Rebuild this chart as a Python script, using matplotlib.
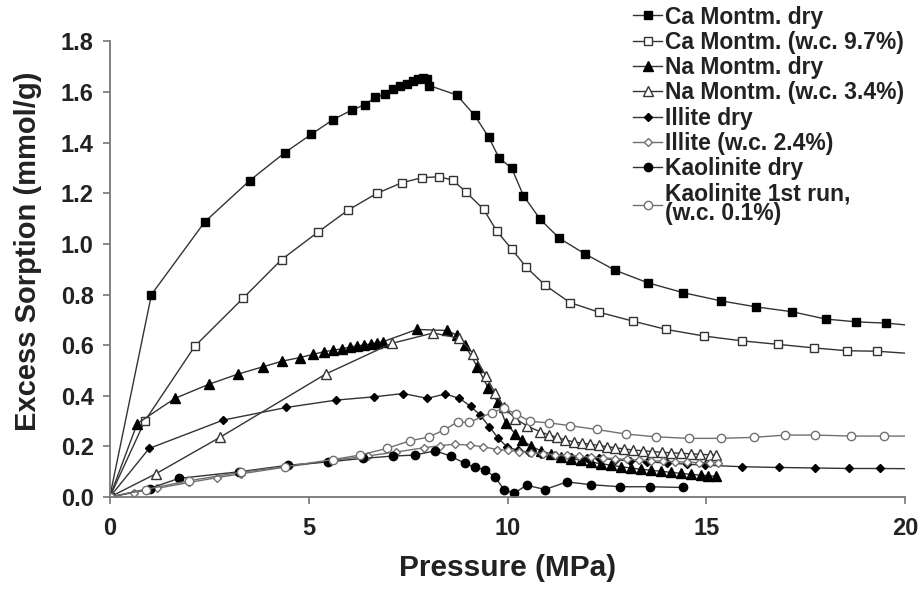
import matplotlib
matplotlib.use('Agg')
import matplotlib.pyplot as plt

plt.rcParams['font.family'] = ['Liberation Sans', 'DejaVu Sans']
plt.rcParams['font.weight'] = 'bold'

# Ca Montmorillonite dry
ca_dry_p = [0, 1.05, 2.39, 3.52, 4.40, 5.07, 5.61, 6.08, 6.42, 6.67, 6.92, 7.12, 7.30, 7.46, 7.63,
            7.75, 7.88, 7.97, 8.03, 8.72, 9.17, 9.53, 9.79, 10.1, 10.4, 10.82, 11.3, 11.95, 12.7,
            13.53, 14.42, 15.36, 16.25, 17.15, 18.0, 18.77, 19.5, 20.3]
ca_dry_s = [0, 0.80, 1.087, 1.25, 1.36, 1.433, 1.49, 1.528, 1.55, 1.578, 1.59, 1.613, 1.622, 1.633,
            1.642, 1.65, 1.653, 1.649, 1.625, 1.588, 1.508, 1.42, 1.338, 1.30, 1.19, 1.097, 1.022,
            0.96, 0.896, 0.846, 0.807, 0.775, 0.751, 0.732, 0.703, 0.692, 0.687, 0.676]

# Ca Montmorillonite w.c. 9.7%
ca_wet_p = [0, 0.88, 2.14, 3.35, 4.32, 5.24, 5.99, 6.71, 7.34, 7.84, 8.28, 8.63, 8.95, 9.40, 9.73,
            10.1, 10.47, 10.94, 11.57, 12.3, 13.15, 13.99, 14.94, 15.89, 16.81, 17.71, 18.52, 19.29, 20.3]
ca_wet_s = [0, 0.30, 0.596, 0.785, 0.938, 1.047, 1.133, 1.199, 1.241, 1.261, 1.265, 1.251, 1.205,
            1.136, 1.05, 0.98, 0.908, 0.837, 0.768, 0.73, 0.695, 0.662, 0.636, 0.617, 0.603, 0.589,
            0.578, 0.576, 0.565]

# Na Montmorillonite dry
na_dry_p = [0, 0.69, 1.64, 2.5, 3.23, 3.86, 4.34, 4.78, 5.12, 5.38, 5.62, 5.84, 6.04, 6.22, 6.40,
            6.56, 6.72, 6.86, 7.72, 8.47, 8.72, 8.93, 9.24, 9.52, 9.75, 9.96, 10.19, 10.36, 10.6,
            10.85, 11.1, 11.35, 11.6, 11.85, 12.1, 12.35, 12.6, 12.85, 13.1, 13.35, 13.6, 13.85,
            14.1, 14.35, 14.6, 14.85, 15.05, 15.25]
na_dry_s = [0, 0.29, 0.39, 0.446, 0.486, 0.515, 0.537, 0.551, 0.564, 0.574, 0.58, 0.586, 0.592,
            0.597, 0.601, 0.605, 0.609, 0.613, 0.662, 0.658, 0.64, 0.60, 0.514, 0.429, 0.376, 0.291,
            0.251, 0.225, 0.20, 0.182, 0.17, 0.16, 0.152, 0.145, 0.138, 0.132, 0.126, 0.12, 0.115,
            0.11, 0.106, 0.102, 0.098, 0.094, 0.09, 0.087, 0.084, 0.082]

# Na Montmorillonite w.c. 3.4%
na_wet_p = [0, 1.17, 2.77, 5.43, 7.09, 8.13, 8.77, 9.14, 9.45, 9.69, 9.9, 10.19, 10.5, 10.82, 11.03,
            11.24, 11.45, 11.66, 11.87, 12.08, 12.29, 12.5, 12.71, 12.93, 13.16, 13.4, 13.64, 13.88,
            14.12, 14.36, 14.6, 14.84, 15.08, 15.25]
na_wet_s = [0, 0.093, 0.236, 0.486, 0.607, 0.648, 0.628, 0.567, 0.48, 0.41, 0.357, 0.31, 0.28, 0.258,
            0.246, 0.236, 0.226, 0.218, 0.213, 0.209, 0.204, 0.199, 0.195, 0.19, 0.186, 0.183, 0.18,
            0.177, 0.175, 0.173, 0.171, 0.169, 0.167, 0.165]

# Illite dry
il_dry_p = [0, 0.99, 2.85, 4.44, 5.69, 6.64, 7.38, 7.98, 8.43, 8.79, 9.07, 9.31, 9.54, 9.77, 9.98,
            10.25, 10.55, 10.85, 11.2, 11.6, 12.0, 12.3, 12.7, 13.08, 13.5, 14.0, 14.5, 14.97, 15.9,
            16.83, 17.74, 18.57, 19.35, 20.3]
il_dry_s = [0, 0.192, 0.304, 0.354, 0.383, 0.396, 0.409, 0.39, 0.407, 0.39, 0.359, 0.324, 0.278,
            0.232, 0.199, 0.185, 0.177, 0.17, 0.165, 0.16, 0.156, 0.153, 0.148, 0.143, 0.139, 0.135,
            0.13, 0.126, 0.12, 0.117, 0.115, 0.113, 0.113, 0.112]

# Illite w.c. 2.4%
il_wet_p = [0, 0.6, 1.2, 2.0, 2.7, 3.3, 4.4, 5.6, 6.5, 7.2, 7.9, 8.3, 8.68, 9.06, 9.39, 9.73, 10.0,
            10.3, 10.6, 10.9, 11.2, 11.5, 11.8, 12.1, 12.4, 12.7, 13.0, 13.3, 13.6, 13.9, 14.2, 14.5,
            14.8, 15.1, 15.3]
il_wet_s = [0, 0.018, 0.035, 0.058, 0.077, 0.092, 0.118, 0.145, 0.163, 0.178, 0.195, 0.203, 0.209,
            0.205, 0.199, 0.188, 0.185, 0.18, 0.176, 0.172, 0.168, 0.165, 0.161, 0.158, 0.155, 0.152,
            0.149, 0.146, 0.144, 0.142, 0.14, 0.138, 0.136, 0.135, 0.134]

# Kaolinite dry
ka_dry_p = [0, 1.0, 1.74, 3.25, 4.49, 5.49, 6.37, 7.11, 7.67, 8.18, 8.57, 8.93, 9.18, 9.43, 9.69,
            9.91, 10.16, 10.48, 10.94, 11.49, 12.1, 12.82, 13.58, 14.42]
ka_dry_s = [0, 0.034, 0.074, 0.1, 0.126, 0.139, 0.153, 0.162, 0.166, 0.183, 0.162, 0.133, 0.117,
            0.109, 0.078, 0.03, 0.015, 0.047, 0.03, 0.06, 0.049, 0.041, 0.041, 0.038]

# Kaolinite 1st run (w.c. 0.1%)
ka_run_p = [0, 0.9, 2.0, 3.3, 4.4, 5.6, 6.29, 6.96, 7.56, 8.02, 8.4, 8.75, 9.03, 9.6, 9.9, 10.2,
            10.57, 11.05, 11.58, 12.24, 12.98, 13.74, 14.55, 15.36, 16.2, 16.98, 17.74, 18.63, 19.46, 20.3]
ka_run_s = [0, 0.03, 0.065, 0.098, 0.12, 0.148, 0.166, 0.192, 0.223, 0.237, 0.265, 0.297, 0.295,
            0.333, 0.35, 0.33, 0.299, 0.293, 0.282, 0.267, 0.249, 0.238, 0.232, 0.232, 0.236, 0.245,
            0.245, 0.241, 0.241, 0.241]

fig = plt.figure(figsize=(9.22, 5.89), dpi=100)
ax = fig.add_axes([0.119, 0.156, 0.863, 0.774])

line_c = '#333333'
grey = '#707070'

ax.plot(ca_dry_p, ca_dry_s, color=line_c, lw=1, marker='s', ms=6, mfc='black', mec='black',
        label='Ca Montm. dry')
ax.plot(ca_wet_p, ca_wet_s, color=line_c, lw=1, marker='s', ms=6, mfc='white', mec='#333333',
        label='Ca Montm. (w.c. 9.7%)')
ax.plot(na_dry_p, na_dry_s, color=line_c, lw=1, marker='^', ms=6.5, mfc='black', mec='black',
        label='Na Montm. dry')
ax.plot(na_wet_p, na_wet_s, color=line_c, lw=1, marker='^', ms=6.5, mfc='white', mec='#333333',
        label='Na Montm. (w.c. 3.4%)')
ax.plot(il_dry_p, il_dry_s, color=line_c, lw=1, marker='D', ms=4.5, mfc='black', mec='black',
        label='Illite dry')
ax.plot(il_wet_p, il_wet_s, color=grey, lw=1, marker='D', ms=4.5, mfc='white', mec=grey,
        label='Illite (w.c. 2.4%)')
ax.plot(ka_dry_p, ka_dry_s, color=line_c, lw=1, marker='o', ms=6, mfc='black', mec='black',
        label='Kaolinite dry')
ax.plot(ka_run_p, ka_run_s, color=grey, lw=1, marker='o', ms=6, mfc='white', mec=grey,
        label='Kaolinite 1st run,\n(w.c. 0.1%)')

ax.set_xlim(0, 20)
ax.set_ylim(0, 1.8)
ax.set_xticks([0, 5, 10, 15, 20])
ax.set_yticks([0.0, 0.2, 0.4, 0.6, 0.8, 1.0, 1.2, 1.4, 1.6, 1.8])
ax.set_yticklabels(['0.0', '0.2', '0.4', '0.6', '0.8', '1.0', '1.2', '1.4', '1.6', '1.8'])

ax.spines['top'].set_visible(False)
ax.spines['right'].set_visible(False)
for s in ['left', 'bottom']:
    ax.spines[s].set_color('#777777')
    ax.spines[s].set_linewidth(1.3)
ax.tick_params(axis='both', colors='#777777', labelcolor='#222222', labelsize=17,
               length=5, width=1.2, direction='out')
ax.tick_params(axis='x', pad=9)
ax.tick_params(axis='y', pad=6.5)
for t in ax.get_xticklabels() + ax.get_yticklabels():
    t.set_fontweight('bold')

ax.set_xlabel('Pressure (MPa)', fontsize=21.5, fontweight='bold', color='#222222')
ax.xaxis.set_label_coords(0.5, -0.125)
ax.set_ylabel('Excess Sorption (mmol/g)', fontsize=21, fontweight='bold', color='#222222')
ax.yaxis.set_label_coords(-0.085, 0.54)

leg = ax.legend(loc='upper left', bbox_to_anchor=(0.672, 1.014), bbox_transform=fig.transFigure,
                frameon=False, fontsize=16.5, handlelength=1.25, handletextpad=0.15,
                labelspacing=0.1, borderpad=0.1)
for txt in leg.get_texts():
    txt.set_fontweight('bold')
    txt.set_color('#222222')
    txt.set_linespacing(0.8)

fig.savefig('out.png', dpi=100)
